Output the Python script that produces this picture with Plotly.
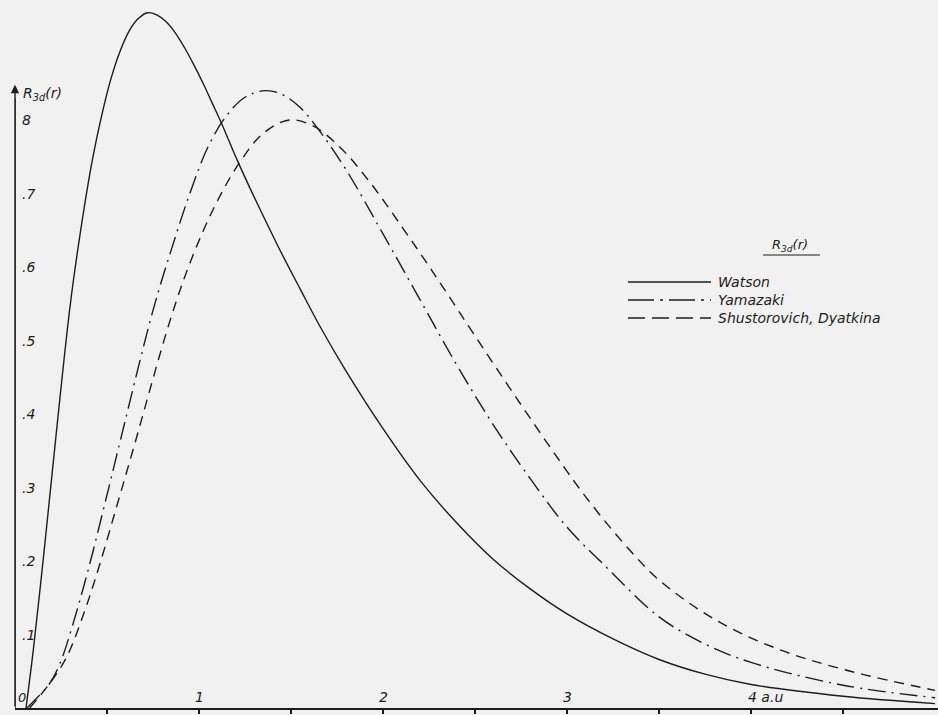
import plotly.graph_objects as go

# ---- data ----
r_watson = [0.06, 0.10, 0.163, 0.20, 0.30, 0.36, 0.42, 0.47, 0.52, 0.57, 0.62, 0.67, 0.72, 0.77, 0.82, 0.87,
            0.92, 0.97, 1.02, 1.07, 1.125, 1.217, 1.43, 1.55, 1.66, 1.8, 2.0, 2.2, 2.4, 2.6, 2.8, 3.0, 3.25,
            3.5, 3.75, 4.0, 4.5, 5.0]
R_watson = [0.0, 0.08, 0.225, 0.315, 0.548, 0.655, 0.745, 0.805, 0.855, 0.893, 0.921, 0.938, 0.946, 0.943,
            0.934, 0.919, 0.899, 0.876, 0.851, 0.824, 0.794, 0.74, 0.628, 0.57, 0.518, 0.458, 0.38, 0.31,
            0.252, 0.202, 0.162, 0.128, 0.094, 0.066, 0.046, 0.032, 0.016, 0.006]

r_yamazaki = [0.065, 0.19, 0.245, 0.31, 0.40, 0.50, 0.554, 0.75, 0.85, 0.95, 1.05, 1.15, 1.25, 1.36,
              1.45, 1.55, 1.65, 1.8, 2.0, 2.2, 2.4, 2.6, 2.8, 3.0, 3.2, 3.5, 3.75, 4.0, 4.5, 5.0]
R_yamazaki = [0.0, 0.034, 0.061, 0.11, 0.19, 0.29, 0.345, 0.541, 0.624, 0.70, 0.764, 0.806, 0.831, 0.84,
              0.835, 0.817, 0.787, 0.732, 0.645, 0.556, 0.467, 0.385, 0.312, 0.246, 0.195, 0.124, 0.087,
              0.062, 0.031, 0.014]

r_shust = [0.08, 0.19, 0.28, 0.38, 0.46, 0.55, 0.64, 0.84, 0.95, 1.08, 1.22, 1.35, 1.49, 1.62, 1.77,
           1.93, 2.11, 2.22, 2.33, 2.49, 2.73, 3.0, 3.13, 3.34, 3.51, 3.82, 4.17, 4.54, 5.0]
R_shust = [0.0, 0.034, 0.069, 0.133, 0.195, 0.272, 0.35, 0.525, 0.605, 0.68, 0.742, 0.782, 0.80, 0.792, 0.762,
           0.715, 0.652, 0.612, 0.571, 0.51, 0.42, 0.322, 0.278, 0.215, 0.172, 0.118, 0.078, 0.05, 0.024]

series_names = ["Watson", "Yamazaki", "Shustorovich, Dyatkina"]

x_tick_vals = [0.5, 1, 1.5, 2, 2.5, 3, 3.5, 4, 4.5]
x_label_vals = [1, 2, 3, 4]
x_label_text = ["1", "2", "3", "4 a.u"]
y_label_vals = [0.1, 0.2, 0.3, 0.4, 0.5, 0.6, 0.7, 0.8]
y_label_text = [".1", ".2", ".3", ".4", ".5", ".6", ".7", "8"]

INK = "#1c1c1c"
BG = "#f1f1f1"
FONT = "DejaVu Sans"

styles = [
    dict(color=INK, width=1.4, dash="solid"),
    dict(color=INK, width=1.4, dash="18px,6px,2px,6px"),
    dict(color=INK, width=1.4, dash="10px,7px"),
]
legend_dash = ["solid", "26px,6px,3px,6px", "17px,7px"]

fig = go.Figure()
for (xs, ys), name, st in zip([(r_watson, R_watson), (r_yamazaki, R_yamazaki), (r_shust, R_shust)],
                              series_names, styles):
    fig.add_trace(go.Scatter(x=xs, y=ys, mode="lines", name=name,
                             line=dict(shape="spline", smoothing=1.0, **st),
                             showlegend=False, hoverinfo="skip"))

annotations = []
for v, t in zip(y_label_vals, y_label_text):
    annotations.append(dict(x=0, y=v, xref="x", yref="y", text=f"<i>{t}</i>", showarrow=False,
                            xanchor="left", yanchor="middle", xshift=5,
                            font=dict(family=FONT, size=14, color=INK)))
annotations.append(dict(x=0, y=0, xref="x", yref="y", text="<i>0</i>", showarrow=False,
                        xanchor="left", yanchor="bottom", xshift=1, yshift=1,
                        font=dict(family=FONT, size=13, color=INK)))
for v, t in zip(x_label_vals, x_label_text):
    annotations.append(dict(x=v, y=0, xref="x", yref="y", text=f"<i>{t}</i>", showarrow=False,
                            xanchor="left" if len(t) > 1 else "center", yanchor="bottom",
                            xshift=-5 if len(t) > 1 else 0, yshift=1,
                            font=dict(family=FONT, size=14, color=INK)))
# y axis arrow
annotations.append(dict(x=0, y=0.848, ax=0, ay=0, xref="x", yref="y", axref="x", ayref="y",
                        text="", showarrow=True, arrowhead=2, arrowsize=1.2, arrowwidth=1.4,
                        arrowcolor=INK))
annotations.append(dict(x=0, y=0.836, xref="x", yref="y", text="<i>R<sub>3d</sub>(r)</i>", showarrow=False,
                        xanchor="left", yanchor="middle", xshift=6,
                        font=dict(family=FONT, size=14, color=INK)))

# custom legend (paper coords)
W, H, L, B = 923, 708, 15, 7
def px(xp):
    return (xp - L) / W
def py(yp):
    return (715 - B - yp) / H

legend_y = [282, 300, 318]
shapes = []
for yy, name, dsh in zip(legend_y, series_names, legend_dash):
    shapes.append(dict(type="line", xref="paper", yref="paper", x0=px(628), x1=px(711), y0=py(yy), y1=py(yy),
                       line=dict(color=INK, width=1.4, dash=dsh)))
    annotations.append(dict(x=px(716), y=py(yy), xref="paper", yref="paper", text=f"<i>{name}</i>",
                            showarrow=False, xanchor="left", yanchor="middle",
                            font=dict(family=FONT, size=14, color=INK)))
annotations.append(dict(x=px(790), y=py(245), xref="paper", yref="paper", text="<i>R<sub>3d</sub>(r)</i>",
                        showarrow=False, xanchor="center", yanchor="middle",
                        font=dict(family=FONT, size=13, color=INK)))
shapes.append(dict(type="line", xref="paper", yref="paper", x0=px(763), x1=px(820), y0=py(255), y1=py(255),
                   line=dict(color=INK, width=1.2)))
shapes.append(dict(type="line", xref="x", yref="y", x0=0, x1=0, y0=0, y1=0.83,
                   line=dict(color=INK, width=1.4)))

fig.update_layout(
    width=938, height=715,
    margin=dict(l=L, r=0, t=0, b=B, autoexpand=False),
    paper_bgcolor=BG, plot_bgcolor=BG,
    showlegend=False,
    xaxis=dict(range=[0, 5.016], showgrid=False, zeroline=False, showline=True, linecolor=INK, linewidth=1.5,
               tickvals=x_tick_vals, showticklabels=False, ticks="outside", ticklen=4,
               tickwidth=1.5, tickcolor=INK, fixedrange=True, automargin=False),
    yaxis=dict(range=[0, 0.9633], showgrid=False, zeroline=False, showline=False,
               showticklabels=False, ticks="", fixedrange=True, automargin=False),
    annotations=annotations,
    shapes=shapes,
)

fig.write_html("out.html",
               post_script="document.body.style.margin='0';document.body.style.overflow='hidden';"
                           "document.body.style.background='" + BG + "';",
               config={"displayModeBar": False})
